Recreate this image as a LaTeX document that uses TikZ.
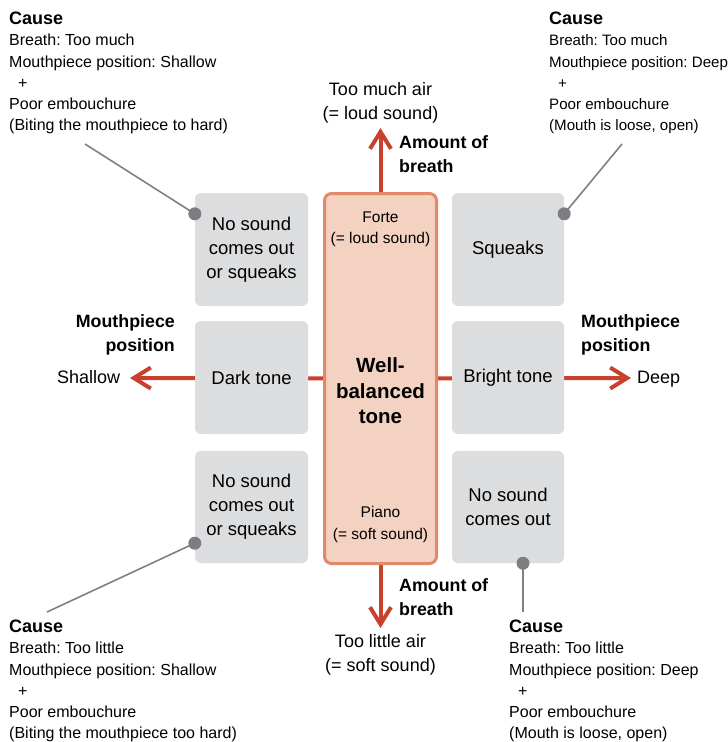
\documentclass[tikz,border=0pt]{standalone}
\usepackage{fontspec}
\setmainfont{Liberation Sans}
\usetikzlibrary{arrows.meta,backgrounds}
\definecolor{boxgray}{HTML}{DCDDDF}
\definecolor{arrowred}{HTML}{C9412D}
\definecolor{cfill}{HTML}{F3D2C2}
\definecolor{cborder}{HTML}{E2886B}
\definecolor{conngray}{HTML}{808080}
\definecolor{dotgray}{HTML}{7E7E82}
\frenchspacing
\newcommand{\causehead}{{\bfseries\fontsize{18}{21.2}\selectfont Cause}}
\begin{document}
\begin{tikzpicture}[x=1pt,y=-1pt,
  cellbox/.style={fill=boxgray, rounded corners=6pt, minimum width=113pt, minimum height=113pt, inner sep=0pt, align=center, font=\fontsize{18.5}{24}\selectfont},
  centerbox/.style={fill=cfill, draw=cborder, line width=3pt, rounded corners=7pt, minimum width=112pt, minimum height=370pt, inner sep=0pt},
  bigarrow/.style={draw=arrowred, line width=4pt, -{Straight Barb[length=17pt,width=21pt]}},
  conn/.style={draw=conngray, line width=1.6pt},
  dot/.style={circle, fill=dotgray, minimum size=13pt, inner sep=0pt},
  causetext/.style={anchor=north west, inner sep=0pt, align=left, font=\fontsize{16}{21.2}\selectfont},
  labeltext/.style={inner sep=0pt, align=center, font=\fontsize{18}{24}\selectfont},
  boldlabel/.style={inner sep=0pt, font=\bfseries\fontsize{17.8}{24}\selectfont},
  smalltext/.style={inner sep=0pt, align=center, font=\fontsize{15.5}{21.5}\selectfont}
]
\useasboundingbox (0,0) rectangle (728,742);

% boxes
\node[centerbox] (cb) at (380.5,378.5) {};
\node[cellbox] (tl) at (251.5,249.5) {No sound\\comes out\\or squeaks};
\node[cellbox] (ml) at (251.5,377.5) {Dark tone};
\node[cellbox, minimum height=112pt] (bl) at (251.5,507) {No sound\\comes out\\or squeaks};
\node[cellbox, minimum width=112pt] (tr) at (508,249.5) {Squeaks};
\node[cellbox, minimum width=112pt] (mr) at (508,377.5) {Bright tone};
\node[cellbox, minimum width=112pt, minimum height=112pt] (br) at (508,507) {No sound\\comes out};

% texts inside the centre box
\node[smalltext, anchor=north] (forte) at (380.5,211.5) {Forte\\(= loud sound)};
\node[smalltext, anchor=north] (piano) at (380.5,506.5) {Piano\\(= soft sound)};
\node[inner sep=0pt, align=center, anchor=north, font=\bfseries\fontsize{20.5}{25.5}\selectfont] (well) at (380.5,357.5) {Well-\\balanced\\tone};

% arrows
\coordinate (tipU) at (380.5,128);
\coordinate (tipD) at (380.5,628);
\coordinate (tipL) at (130,378);
\coordinate (tipR) at (631,378);
\begin{scope}[on background layer]
  \draw[bigarrow] (cb.center) -- (tipU);
  \draw[bigarrow] (cb.center) -- (tipD);
  \draw[bigarrow] (cb.center) -- (tipL);
  \draw[bigarrow] (cb.center) -- (tipR);
\end{scope}

% arrow labels
\node[labeltext, anchor=north] (much) at (380.5,82) {Too much air\\(= loud sound)};
\node[labeltext, anchor=north] (little) at (380.5,634) {Too little air\\(= soft sound)};
\node[boldlabel, anchor=north west, align=left] (breathU) at (399,135) {Amount of\\breath};
\node[boldlabel, anchor=north west, align=left] (breathD) at (399,578) {Amount of\\breath};
\node[boldlabel, anchor=north east, align=right] (mpL) at (175,314) {Mouthpiece\\position};
\node[boldlabel, anchor=north west, align=left] (mpR) at (581,314) {Mouthpiece\\position};
\node[labeltext, anchor=base west] (shallow) at (57,383) {Shallow};
\node[labeltext, anchor=base west] (deep) at (637,383) {Deep};

% cause texts
\node[causetext] (c1) at (9,12) {\causehead\\Breath: Too much\\Mouthpiece position: Shallow\\\hspace*{9pt}+\\Poor embouchure\\(Biting the mouthpiece to hard)};
\node[causetext, font=\fontsize{15.1}{21.2}\selectfont] (c2) at (549,12) {\causehead\\Breath: Too much\\Mouthpiece position: Deep\\\hspace*{9pt}+\\Poor embouchure\\(Mouth is loose, open)};
\node[causetext] (c3) at (9,620) {\causehead\\Breath: Too little\\Mouthpiece position: Shallow\\\hspace*{9pt}+\\Poor embouchure\\(Biting the mouthpiece too hard)};
\node[causetext] (c4) at (509,620) {\causehead\\Breath: Too little\\Mouthpiece position: Deep\\\hspace*{9pt}+\\Poor embouchure\\(Mouth is loose, open)};

% connectors
\coordinate (e1) at (85,144);
\coordinate (e2) at (622,144);
\coordinate (e3) at (47,612);
\coordinate (e4) at (523,612);
\node[dot] (d1) at ([yshift=-21pt]tl.north west) {};
\node[dot] (d2) at ([yshift=-21pt]tr.north east) {};
\node[dot] (d3) at ([yshift=20pt]bl.south west) {};
\node[dot] (d4) at ([xshift=15pt]br.south) {};
\begin{scope}[on background layer]
  \draw[conn] (e1) -- (d1.center);
  \draw[conn] (e2) -- (d2.center);
  \draw[conn] (e3) -- (d3.center);
  \draw[conn] (e4) -- (d4.center);
\end{scope}
\end{tikzpicture}
\end{document}
